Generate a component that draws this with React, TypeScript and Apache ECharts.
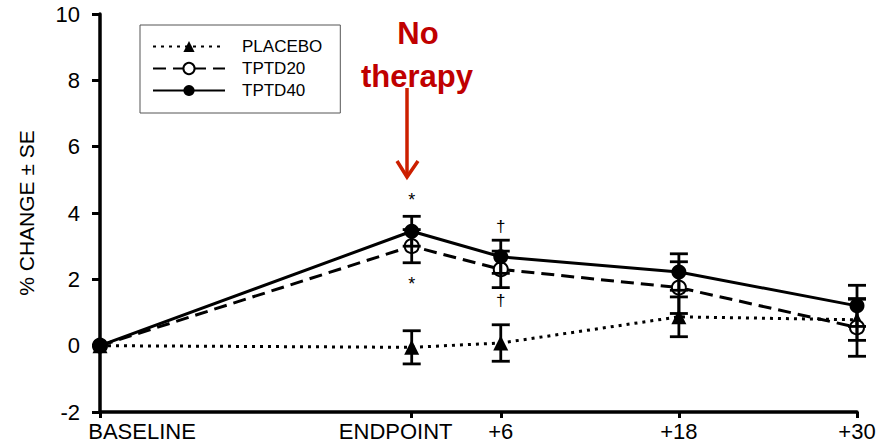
import React, { useEffect, useRef } from "react";
import * as echarts from "echarts";

const months = [0, 21, 27, 39, 51];
const tickLabels = ["BASELINE", "ENDPOINT", "+6", "+18", "+30"];
const seriesNames = ["PLACEBO", "TPTD20", "TPTD40"];

const placebo = [0, -0.05, 0.08, 0.87, 0.78];
const placeboSE = [0, 0.5, 0.55, 0.6, 0.62];
const tptd20 = [0, 3.0, 2.3, 1.75, 0.55];
const tptd20SE = [0, 0.5, 0.55, 0.78, 0.87];
const tptd40 = [0, 3.45, 2.68, 2.22, 1.2];
const tptd40SE = [0, 0.45, 0.5, 0.55, 0.62];

const markText = ["*", "*", "†", "†"];
const markX = [21, 21, 27, 27];
const markY = [4.4, 1.85, 3.6, 1.35];

const FONT = "Liberation Sans, Arial, sans-serif";

function errData(vals: number[], se: number[]) {
  const out: number[][] = [];
  vals.forEach((v, i) => {
    if (se[i] > 0) out.push([months[i], v - se[i], v + se[i]]);
  });
  return out;
}

function errSeries(vals: number[], se: number[], z: number) {
  return {
    type: "custom",
    clip: false,
    z,
    silent: true,
    encode: { x: 0, y: [1, 2] },
    data: errData(vals, se),
    renderItem: (params: any, api: any) => {
      const x = api.value(0);
      const lo = api.coord([x, api.value(1)]);
      const hi = api.coord([x, api.value(2)]);
      const w = 9;
      const st = { stroke: "#000", lineWidth: 2.8 };
      return {
        type: "group",
        children: [
          { type: "line", shape: { x1: lo[0], y1: lo[1], x2: hi[0], y2: hi[1] }, style: st },
          { type: "line", shape: { x1: lo[0] - w, y1: lo[1], x2: lo[0] + w, y2: lo[1] }, style: st },
          { type: "line", shape: { x1: hi[0] - w, y1: hi[1], x2: hi[0] + w, y2: hi[1] }, style: st },
        ],
      };
    },
  };
}

function pts(vals: number[]) {
  return vals.map((v, i) => [months[i], v]);
}

export default function App() {
  const ref = useRef<HTMLDivElement>(null);
  useEffect(() => {
    if (!ref.current) return;
    const chart = echarts.init(ref.current, null, { renderer: "svg" });
    const option: any = {
      animation: false,
      backgroundColor: "#fff",
      grid: { left: 100, right: 37, top: 14, bottom: 31 },
      legend: {
        orient: "vertical",
        left: 140,
        top: 25,
        data: seriesNames,
        itemWidth: 72,
        itemHeight: 14,
        itemGap: 5,
        padding: [13, 18, 14, 12],
        borderColor: "#555",
        borderWidth: 1,
        textStyle: { fontFamily: FONT, fontSize: 17, color: "#000", padding: [0, 0, 0, 12] },
      },
      xAxis: {
        type: "value",
        min: 0,
        max: 51,
        splitLine: { show: false },
        axisLine: { onZero: false, lineStyle: { color: "#000", width: 3.5 } },
        axisTick: { customValues: months, length: 6, lineStyle: { color: "#000", width: 3 } },
        axisLabel: {
          customValues: months,
          margin: 8,
          color: "#000",
          fontFamily: FONT,
          fontSize: 22,
          formatter: (v: number) => {
            const i = months.indexOf(v);
            if (i < 0) return "";
            if (i === 0) return "{b|" + tickLabels[i] + "}";
            if (i === 1) return "{e|" + tickLabels[i] + "}";
            return tickLabels[i];
          },
          rich: {
            b: { fontFamily: FONT, fontSize: 22, color: "#000", padding: [0, 0, 0, 84] },
            e: { fontFamily: FONT, fontSize: 22, color: "#000", padding: [0, 32, 0, 0] },
          },
        },
      },
      yAxis: {
        type: "value",
        min: -2,
        max: 10,
        interval: 2,
        name: "% CHANGE ± SE",
        nameLocation: "middle",
        nameRotate: 90,
        nameGap: 63,
        nameTextStyle: { fontFamily: FONT, fontSize: 21, color: "#000" },
        splitLine: { show: false },
        axisLine: { onZero: false, lineStyle: { color: "#000", width: 3.5 } },
        axisTick: { length: 8, lineStyle: { color: "#000", width: 3 } },
        axisLabel: { color: "#000", fontFamily: FONT, fontSize: 22, margin: 20 },
      },
      series: [
        {
          name: "PLACEBO",
          type: "line",
          clip: false,
          z: 3,
          data: pts(placebo),
          symbol: "triangle",
          symbolSize: 15,
          itemStyle: { color: "#000" },
          lineStyle: { color: "#000", width: 3, type: [3, 5] },
        },
        {
          name: "TPTD20",
          type: "line",
          clip: false,
          z: 4,
          data: pts(tptd20),
          symbol: "circle",
          symbolSize: 14,
          itemStyle: { color: "#fff", borderColor: "#000", borderWidth: 2 },
          lineStyle: { color: "#000", width: 3, type: [13, 7] },
        },
        {
          name: "TPTD40",
          type: "line",
          clip: false,
          z: 5,
          data: pts(tptd40),
          symbol: "circle",
          symbolSize: 15,
          itemStyle: { color: "#000" },
          lineStyle: { color: "#000", width: 3 },
        },
        errSeries(placebo, placeboSE, 6),
        errSeries(tptd20, tptd20SE, 6),
        errSeries(tptd40, tptd40SE, 6),
        {
          type: "custom",
          silent: true,
          clip: false,
          z: 7,
          encode: { x: 0, y: 1 },
          data: markText.map((t, i) => [markX[i], markY[i], i]),
          renderItem: (params: any, api: any) => {
            const p = api.coord([api.value(0), api.value(1)]);
            const t = markText[api.value(2)];
            return {
              type: "text",
              x: p[0],
              y: p[1],
              style: {
                text: t,
                fill: "#000",
                font: (t === "*" ? "18px " : "17px ") + FONT,
                textAlign: "center",
                textVerticalAlign: "middle",
              },
            };
          },
        },
      ],
      graphic: [
        {
          type: "text",
          x: 418,
          y: 33,
          style: {
            text: "No",
            fill: "#c00000",
            font: "bold 31px " + FONT,
            textAlign: "center",
            textVerticalAlign: "middle",
          },
        },
        {
          type: "text",
          x: 417,
          y: 76,
          style: {
            text: "therapy",
            fill: "#c00000",
            font: "bold 31px " + FONT,
            textAlign: "center",
            textVerticalAlign: "middle",
          },
        },
        {
          type: "line",
          shape: { x1: 407, y1: 88, x2: 407, y2: 176 },
          style: { stroke: "#cc1f00", lineWidth: 3.5 },
        },
        {
          type: "polyline",
          shape: { points: [[397, 161], [407, 177], [418, 161]] },
          style: { stroke: "#cc1f00", lineWidth: 3.5, fill: null },
        },
      ],
    };
    chart.setOption(option);
    return () => chart.dispose();
  }, []);
  return (
    <div
      ref={ref}
      style={{ position: "fixed", left: 0, top: 0, width: 894, height: 443, background: "#fff" }}
    />
  );
}
